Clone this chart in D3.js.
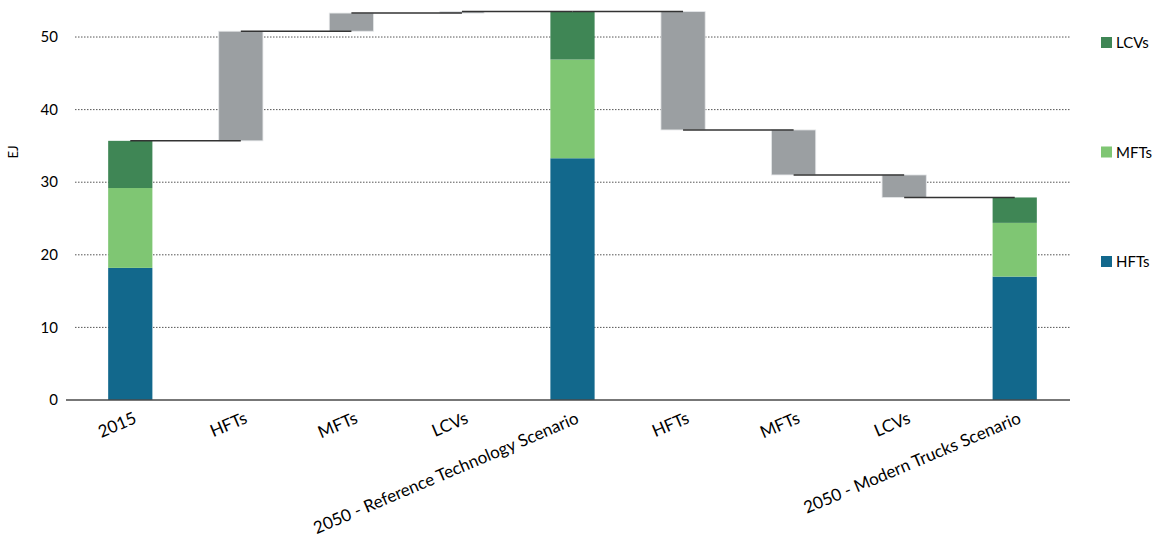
<!DOCTYPE html>
<html>
<head>
<meta charset="utf-8">
<script src="https://cdn.jsdelivr.net/npm/d3@7"></script>
<style>
  body { margin: 0; background: #fff; }
  text { font-family: Lato, 'Open Sans', sans-serif; fill: #000; }
</style>
</head>
<body>
<div id="graf"></div>
<script>
// categories along the x axis
const categorias = ['2015', 'HFTs', 'MFTs', 'LCVs', '2050 - Reference Technology Scenario', 'HFTs', 'MFTs', 'LCVs', '2050 - Modern Trucks Scenario']
// kind of each column: stacked total or step (gray)
const tipos = ['total', 'paso', 'paso', 'paso', 'total', 'paso', 'paso', 'paso', 'total']
// stacked values for the totals (HFTs, MFTs, LCVs)
const hfts = [18.2, null, null, null, 33.3, null, null, null, 17.0]
const mfts = [11.0, null, null, null, 13.6, null, null, null, 7.4]
const lcvs = [6.5, null, null, null, 6.6, null, null, null, 3.5]
// changes of the step columns
const cambios = [null, 15.1, 2.5, 0.2, null, -16.3, -6.2, -3.1, null]
const series = ['HFTs', 'MFTs', 'LCVs']
const yTicks = [0, 10, 20, 30, 40, 50]

const anchoTotal = 1158
const altoTotal = 543
const margin = { top: 0, left: 75, right: 88, bottom: 143 }
const ancho = anchoTotal - margin.left - margin.right
const alto = altoTotal - margin.top - margin.bottom

const colores = { HFTs: '#12688c', MFTs: '#7fc673', LCVs: '#3f8655' }
const gris = '#9b9fa2'

const svg = d3.select('#graf').append('svg')
  .attr('width', anchoTotal)
  .attr('height', altoTotal)

const g = svg.append('g')
  .attr('transform', `translate(${margin.left}, ${margin.top})`)

const y = d3.scaleLinear()
  .domain([0, 55.1])
  .range([alto, 0])

const x = d3.scaleBand()
  .domain(d3.range(categorias.length))
  .range([0, ancho])
  .paddingInner(0.6)
  .paddingOuter(0.3)

// grid
g.selectAll('.grid').data(yTicks.filter(d => d > 0)).enter()
  .append('line')
  .attr('x1', 0).attr('x2', ancho)
  .attr('y1', d => y(d)).attr('y2', d => y(d))
  .attr('stroke', '#555')
  .attr('stroke-width', 1)
  .attr('stroke-dasharray', '1.5,1.5')

// build bars
const barras = []
const conectores = []
let nivel = 0
categorias.forEach((c, i) => {
  if (tipos[i] === 'total') {
    let base = 0
    const vals = [hfts[i], mfts[i], lcvs[i]]
    series.forEach((s, k) => {
      barras.push({ i, y0: base, y1: base + vals[k], color: colores[s] })
      base += vals[k]
    })
    nivel = base
  } else {
    const nuevo = nivel + cambios[i]
    barras.push({ i, y0: Math.min(nivel, nuevo), y1: Math.max(nivel, nuevo), color: gris, paso: true })
    nivel = nuevo
  }
  if (i < categorias.length - 1) conectores.push({ i, v: nivel })
})

g.selectAll('.barra').data(barras).enter()
  .append('rect')
  .attr('x', d => x(d.i))
  .attr('width', x.bandwidth())
  .attr('y', d => y(d.y1))
  .attr('height', d => y(d.y0) - y(d.y1))
  .attr('fill', d => d.color)
  .attr('stroke', d => d.paso ? '#e4e6e8' : 'none')
  .attr('stroke-width', 0.8)

g.selectAll('.con').data(conectores).enter()
  .append('line')
  .attr('x1', d => x(d.i) + x.bandwidth() / 2)
  .attr('x2', d => x(d.i + 1) + x.bandwidth() / 2)
  .attr('y1', d => y(d.v)).attr('y2', d => y(d.v))
  .attr('stroke', '#333')
  .attr('stroke-width', 1.5)

// x axis
g.append('line')
  .attr('x1', -9).attr('x2', ancho)
  .attr('y1', alto).attr('y2', alto)
  .attr('stroke', '#4a4a4a')
  .attr('stroke-width', 1.5)

g.selectAll('.xlab').data(categorias).enter()
  .append('text')
  .attr('transform', (d, i) => `translate(${x(i) + x.bandwidth() / 2 + 5}, ${alto + 17}) rotate(-23)`)
  .attr('text-anchor', 'end')
  .attr('dy', '0.35em')
  .style('font-size', '17px')
  .text(d => d)

// y axis labels
g.selectAll('.ylab').data(yTicks).enter()
  .append('text')
  .attr('x', -17)
  .attr('y', d => y(d))
  .attr('dy', '0.35em')
  .attr('text-anchor', 'end')
  .style('font-size', '15px')
  .text(d => d)

svg.append('text')
  .attr('transform', 'translate(18, 152) rotate(-90)')
  .attr('text-anchor', 'middle')
  .style('font-size', '13px')
  .text('EJ')

// legend
const leyenda = svg.append('g')
const legItems = ['LCVs', 'MFTs', 'HFTs']
legItems.forEach((s, k) => {
  const ly = 43 + k * 109.5
  leyenda.append('rect')
    .attr('x', 1101).attr('y', ly - 6)
    .attr('width', 11).attr('height', 11)
    .attr('fill', colores[s])
  leyenda.append('text')
    .attr('x', 1116).attr('y', ly)
    .attr('dy', '0.35em')
    .style('font-size', '15px')
    .text(s)
})
</script>
</body>
</html>
